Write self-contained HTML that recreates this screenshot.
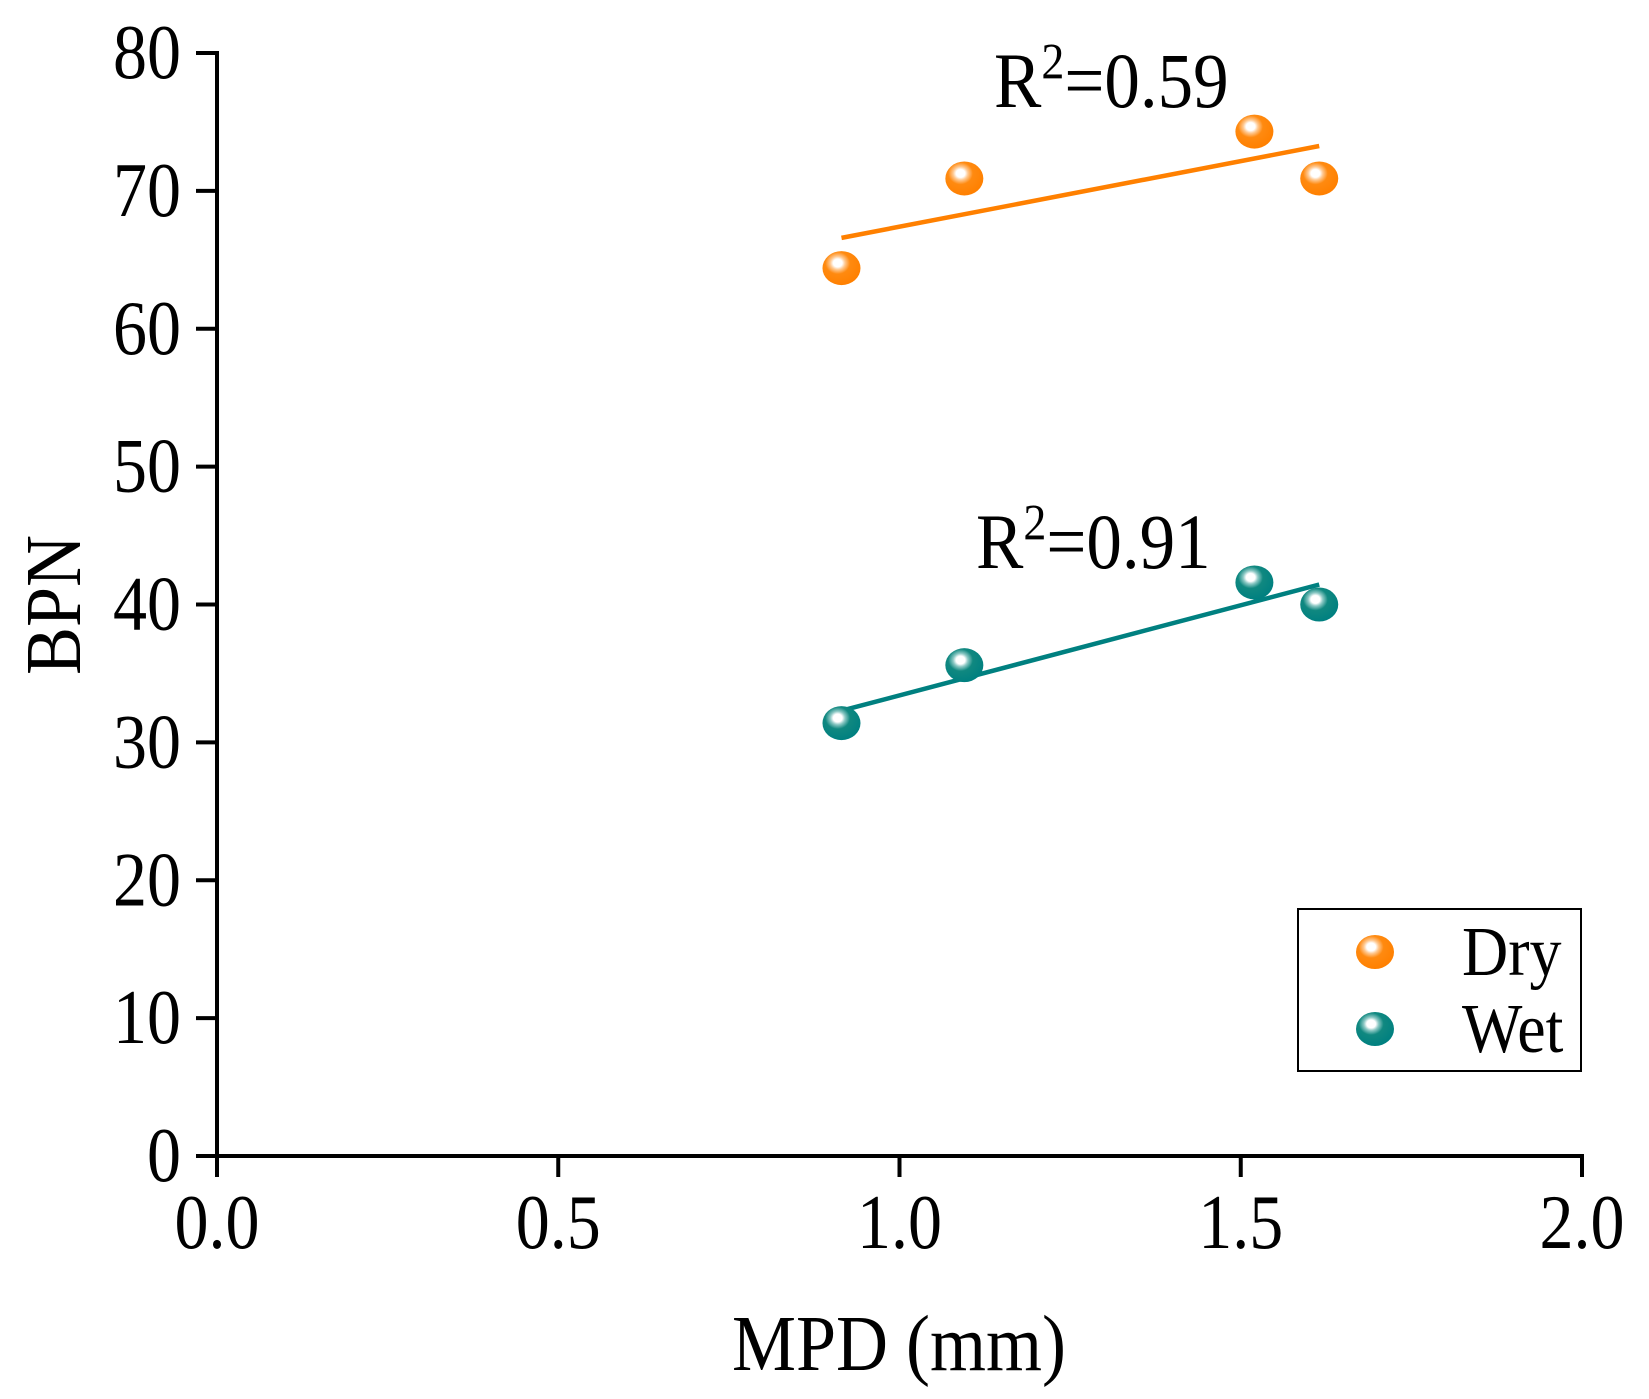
<!DOCTYPE html>
<html><head><meta charset="utf-8"><style>
html,body{margin:0;padding:0;background:#fff}
svg{display:block;font-family:"Liberation Serif",serif}
</style></head><body>
<svg id="chart" width="1649" height="1399" viewBox="0 0 1649 1399" xmlns="http://www.w3.org/2000/svg">
<defs>
<radialGradient id="gDry" cx="0.4" cy="0.35" r="0.65">
<stop offset="0" stop-color="#fff"/><stop offset="0.18" stop-color="#fff"/><stop offset="0.3" stop-color="#ffc890"/><stop offset="0.5" stop-color="#ff8a10"/><stop offset="1" stop-color="#ff8000"/>
</radialGradient>
<radialGradient id="gWet" cx="0.4" cy="0.35" r="0.65">
<stop offset="0" stop-color="#fff"/><stop offset="0.18" stop-color="#fff"/><stop offset="0.3" stop-color="#8cc8c4"/><stop offset="0.5" stop-color="#108880"/><stop offset="1" stop-color="#008080"/>
</radialGradient>
</defs>
<g id="axes"></g>
<g id="marks"></g>
</svg>
<script>
const xTicks=[0,0.5,1.0,1.5,2.0];
const xTickLabels=["0.0","0.5","1.0","1.5","2.0"];
const yTicks=[0,10,20,30,40,50,60,70,80];
const mpd=[0.915,1.095,1.52,1.615];
const dryBPN=[64.4,70.9,74.3,70.9];
const wetBPN=[31.4,35.6,41.6,40.0];
const dryR2="0.59", wetR2="0.91";

const X0=217,X1=1582,Y0=1156,Y1=53;
const sx=v=>X0+(v-0)/(2-0)*(X1-X0);
const sy=v=>Y0-(v-0)/(80-0)*(Y0-Y1);
const NS="http://www.w3.org/2000/svg";
function mk(tag,attrs,parent){const e=document.createElementNS(NS,tag);for(const k in attrs)e.setAttribute(k,attrs[k]);parent.appendChild(e);return e;}
function txt(x,y,size,sy_,anchor,parent){return mk('text',{x:0,y:0,'font-size':size,'text-anchor':anchor,transform:'translate('+x+','+y+') scale(1,'+sy_+')'},parent);}
const axes=document.getElementById('axes'),marks=document.getElementById('marks');

let e=mk('line',{x1:X0,y1:Y0,x2:X0,y2:Y1-2,stroke:'#000','stroke-width':4},axes);

e=mk('line',{x1:X0-2,y1:Y0,x2:X1+2,y2:Y0,stroke:'#000','stroke-width':4},axes);

yTicks.forEach(v=>{
 const t=mk('line',{x1:X0-21,y1:sy(v),x2:X0,y2:sy(v),stroke:'#000','stroke-width':4},axes);
 
 const l=txt(X0-36,sy(v)+25,68,1.14,'end',axes);
 l.textContent=v;
 
});
xTicks.forEach((v,i)=>{
 const t=mk('line',{x1:sx(v),y1:Y0,x2:sx(v),y2:Y0+21,stroke:'#000','stroke-width':4},axes);
 
 const l=txt(sx(v),1248,68,1.14,'middle',axes);
 l.textContent=xTickLabels[i];
 
});
e=txt(899,1370,72,1.1,'middle',axes);e.textContent='MPD (mm)';

e=mk('text',{x:0,y:0,'text-anchor':'middle','font-size':72,transform:'translate(80,605) rotate(-90) scale(1,1.1)'},axes);e.textContent='BPN';


function fit(xs,ys){const n=xs.length,mx=xs.reduce((a,b)=>a+b)/n,my=ys.reduce((a,b)=>a+b)/n;let sxx=0,sxy=0;for(let i=0;i<n;i++){sxx+=(xs[i]-mx)**2;sxy+=(xs[i]-mx)*(ys[i]-my);}const b=sxy/sxx;return [b,my-b*mx];}
function series(ys,color,grad,name){
 const [b,a]=fit(mpd,ys);const xa=Math.min(...mpd),xb=Math.max(...mpd);
 const l=mk('line',{x1:sx(xa),y1:sy(a+b*xa),x2:sx(xb),y2:sy(a+b*xb),stroke:color,'stroke-width':4.5},marks);
 
 ys.forEach((v,i)=>{
  const c=mk('ellipse',{cx:sx(mpd[i]),cy:sy(v),rx:19,ry:17,fill:'url(#'+grad+')'},marks);
  
 });
}
series(dryBPN,'#ff8000','gDry','dry');
series(wetBPN,'#008080','gWet','wet');

function r2(x,y,val,name){const t=txt(x,y,71,1.1,'start',marks);
 t.innerHTML='R<tspan dy="-26" font-size="46">2</tspan><tspan dy="26">='+val+'</tspan>';
 }
r2(994,107,dryR2,'dry-r2-label');
r2(976,568,wetR2,'wet-r2-label');

const lg=mk('g',{},marks);
e=mk('rect',{x:1298,y:909,width:283,height:162,fill:'#fff',stroke:'#000','stroke-width':2},lg);

[['Dry','gDry',952],['Wet','gWet',1029]].forEach(([n,g,y])=>{
 const m=mk('ellipse',{cx:1375,cy:y,rx:19,ry:17,fill:'url(#'+g+')'},lg);
 
 const t=txt(1462,y+23,64,1.1,'start',lg);t.textContent=n;
 
});
</script>
</body></html>
